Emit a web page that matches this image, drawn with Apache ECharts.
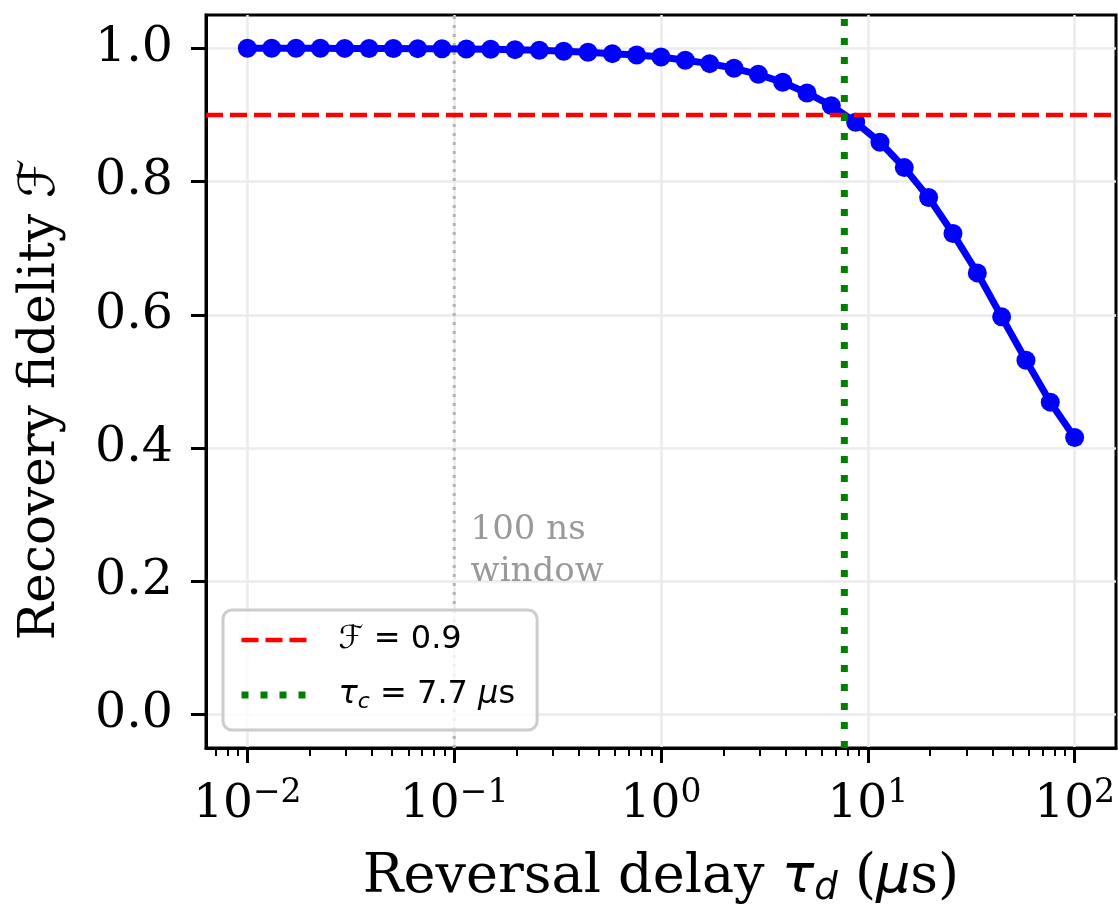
<!DOCTYPE html>
<html>
<head>
<meta charset="utf-8">
<script src="https://cdn.jsdelivr.net/npm/echarts@6.0.0/dist/echarts.min.js"></script>
<style>
  html, body { margin: 0; padding: 0; background: #fff; }
  #chart { width: 1118px; height: 907px; }
</style>
</head>
<body>
<div id="chart"></div>
<script>
// reversal delay tau_d (us), log spaced 1e-2 .. 1e2
const delays = [
  0.01, 0.01311, 0.01719, 0.02254, 0.02955, 0.03875, 0.05080, 0.06661, 0.08733,
  0.1145, 0.1501, 0.1968, 0.2581, 0.3384, 0.4437, 0.5817, 0.7627,
  1.0, 1.311, 1.719, 2.254, 2.955, 3.875, 5.080, 6.661, 8.733,
  11.45, 15.01, 19.68, 25.81, 33.84, 44.37, 58.17, 76.27, 100
]
// recovery fidelity F
const fidelity = [
  1.000, 1.000, 1.000, 1.000, 0.9999, 0.9998, 0.9997, 0.9995, 0.9993,
  0.999, 0.9985, 0.998, 0.997, 0.9957, 0.994, 0.992, 0.990,
  0.987, 0.982, 0.977, 0.970, 0.961, 0.949, 0.933, 0.914, 0.889,
  0.859, 0.821, 0.776, 0.722, 0.663, 0.597, 0.532, 0.469, 0.416
]
const thresholdF = 0.9
const tauC = 7.7
const windowDelay = 0.1
const xMajorExps = [-2, -1, 0, 1, 2]
const yTicks = [0, 0.2, 0.4, 0.6, 0.8, 1.0]

const X_MIN = -2.2, X_MAX = 2.2
const Y_MIN = -0.05, Y_MAX = 1.05

// minor ticks of a log axis (2..9 x 10^n)
let minorTicks = []
for (let e = -3; e <= 2; e++) {
  for (let k = 2; k <= 9; k++) {
    let v = e + Math.log10(k)
    if (v > X_MIN && v < X_MAX) minorTicks.push(v)
  }
}

const serif = 'DejaVu Serif'
const sans = 'DejaVu Sans'
const gridColor = '#ebebeb'
const redDash = { color: '#ff0000', width: 4.5, type: [17, 7] }
const greenDot = { color: '#008000', width: 7, type: [7, 12] }
const hidden = { color: 'rgba(0,0,0,0)', borderColor: 'rgba(0,0,0,0)', borderWidth: 0 }

let dom = echarts.init(document.getElementById('chart'))
let option = {
  animation: false,
  backgroundColor: '#fff',
  grid: {
    left: 206, top: 15, right: 2, bottom: 159,
    outerBoundsMode: 'none', containLabel: false,
    show: true, borderColor: '#000', borderWidth: 3
  },
  legend: {
    data: [
      { name: 'thr', lineStyle: redDash, itemStyle: hidden },
      { name: 'tc', lineStyle: greenDot, itemStyle: hidden }
    ],
    orient: 'vertical',
    left: 223, top: 610,
    padding: [14, 22, 17, 15],
    itemWidth: 70, itemHeight: 20, itemGap: 23,
    backgroundColor: 'rgba(255,255,255,0.8)',
    borderColor: '#cccccc', borderWidth: 3, borderRadius: 9,
    formatter: function (name) {
      if (name === 'thr') return '{f|ℱ}{u| = 0.9}'
      return '{t|τ}{s|c}{u| = 7.7 }{i|μ}{u|s}'
    },
    textStyle: {
      fontFamily: sans, fontSize: 32, color: '#000',
      rich: {
        f: { fontFamily: sans, fontSize: 32, fontStyle: 'italic', padding: [0, 0, 0, 22], lineHeight: 36 },
        t: { fontFamily: sans, fontSize: 32, fontStyle: 'italic', padding: [0, 0, 0, 22], lineHeight: 36 },
        s: { fontFamily: sans, fontSize: 22, fontStyle: 'italic', verticalAlign: 'bottom', lineHeight: 22 },
        u: { fontFamily: sans, fontSize: 32, lineHeight: 36 },
        i: { fontFamily: sans, fontSize: 32, fontStyle: 'italic', lineHeight: 36 }
      }
    }
  },
  xAxis: [
    {
      type: 'value', min: X_MIN, max: X_MAX, position: 'bottom',
      axisLine: { show: true, onZero: false, lineStyle: { color: '#000', width: 3 } },
      axisTick: { show: true, length: 15, customValues: xMajorExps, lineStyle: { color: '#000', width: 3 } },
      axisLabel: {
        customValues: xMajorExps, margin: 29, color: '#000',
        formatter: function (v) {
          return '{b|10}{s|' + (v < 0 ? '−' : '') + Math.abs(v) + '}'
        },
        rich: {
          b: { fontFamily: serif, fontSize: 47, lineHeight: 56, color: '#000' },
          s: { fontFamily: serif, fontSize: 33, lineHeight: 30, verticalAlign: 'top', color: '#000' }
        }
      },
      splitLine: { show: true, lineStyle: { color: gridColor, width: 2.5 } },
      name: 'Reversal delay {it|τ}{sub|d} ({it|μ}s)',
      nameLocation: 'middle', nameGap: 100,
      nameTextStyle: {
        fontFamily: serif, fontSize: 54, color: '#000', lineHeight: 60,
        rich: {
          it: { fontFamily: sans, fontStyle: 'italic', fontSize: 54, lineHeight: 60 },
          sub: { fontFamily: sans, fontStyle: 'italic', fontSize: 37, lineHeight: 32, verticalAlign: 'bottom' }
        }
      }
    },
    {
      type: 'value', min: X_MIN, max: X_MAX, position: 'bottom',
      axisLine: { show: false, onZero: false },
      axisTick: { show: true, length: 8, customValues: minorTicks, lineStyle: { color: '#000', width: 2 } },
      axisLabel: { show: false },
      splitLine: { show: false }
    }
  ],
  yAxis: {
    type: 'value', min: Y_MIN, max: Y_MAX,
    axisLine: { show: true, onZero: false, lineStyle: { color: '#000', width: 3 } },
    axisTick: { show: true, length: 15, customValues: yTicks, lineStyle: { color: '#000', width: 3 } },
    axisLabel: {
      customValues: yTicks, margin: 33, color: '#000',
      fontFamily: serif, fontSize: 49,
      formatter: function (v) { return v.toFixed(1) }
    },
    splitLine: { show: true, lineStyle: { color: gridColor, width: 2.5 } },
    name: 'Recovery fidelity {f|ℱ}',
    nameLocation: 'middle', nameGap: 140,
    nameTextStyle: {
      fontFamily: serif, fontSize: 50, color: '#000',
      padding: [0, 36, 0, 0],
      rich: { f: { fontFamily: sans, fontStyle: 'italic', fontSize: 50 } }
    }
  },
  series: [
    {
      name: 'window', type: 'line', z: 1, silent: true, symbol: 'none',
      data: [[Math.log10(windowDelay), Y_MIN], [Math.log10(windowDelay), Y_MAX]],
      lineStyle: { color: '#b3b3b3', width: 3, type: [3, 6] }
    },
    {
      name: 'fidelity', type: 'line', z: 3,
      data: delays.map((d, i) => [Math.log10(d), fidelity[i]]),
      symbol: 'circle', symbolSize: 19,
      itemStyle: { color: '#0000ff' },
      lineStyle: { color: '#0000ff', width: 7 }
    },
    {
      name: 'thr', type: 'line', z: 4, symbol: 'none',
      data: [[X_MIN, thresholdF], [X_MAX, thresholdF]],
      itemStyle: { color: '#ff0000' },
      lineStyle: redDash
    },
    {
      name: 'tc', type: 'line', z: 4, symbol: 'none',
      data: [[Math.log10(tauC), Y_MIN], [Math.log10(tauC), Y_MAX]],
      itemStyle: { color: '#008000' },
      lineStyle: greenDot
    },
    {
      name: 'note', type: 'scatter', z: 5, silent: true,
      symbolSize: 0,
      data: [[Math.log10(0.12), 0.245]],
      label: {
        show: true, position: [0, 0], align: 'left', verticalAlign: 'middle',
        formatter: '100 ns\nwindow',
        fontFamily: serif, fontSize: 34, lineHeight: 42, color: '#808080'
      }
    }
  ]
}
dom.setOption(option)
</script>
</body>
</html>
